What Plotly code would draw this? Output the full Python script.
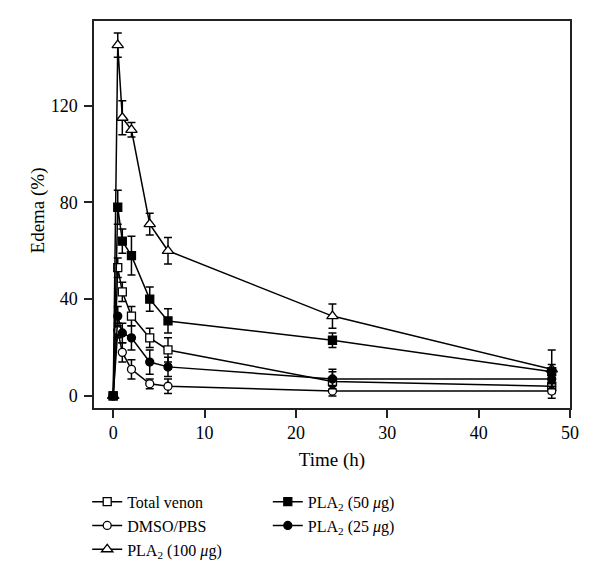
import plotly.graph_objects as go

time_h = [0, 0.5, 1, 2, 4, 6, 24, 48]

total_venom = [0, 53, 43, 33, 24, 19, 6, 4]
total_venom_err = [0, 4, 4, 4, 4, 5, 4, 3]

dmso_pbs = [0, 27, 18, 11, 5, 4, 2, 2]
dmso_pbs_err = [0, 3, 4, 4, 2, 3, 2, 3]

pla2_100 = [0, 145, 115, 110, 71, 60, 33, 11]
pla2_100_err = [0, 5, 7, 3, 4.5, 5.5, 5, 8]

pla2_50 = [0, 78, 64, 58, 40, 31, 23, 10]
pla2_50_err = [0, 7, 5, 8, 5, 5, 3, 3]

pla2_25 = [0, 33, 26, 24, 14, 12, 7, 7]
pla2_25_err = [0, 4, 4, 5, 5, 4, 4, 3]

x_ticks = [0, 10, 20, 30, 40, 50]
y_ticks = [0, 40, 80, 120]

FONT = "Liberation Serif"

series = [
    ("Total venon", total_venom, total_venom_err, "square", "white", 8, "legend"),
    ("DMSO/PBS", dmso_pbs, dmso_pbs_err, "circle", "white", 8, "legend"),
    ("PLA<sub>2</sub> (100 <i>μ</i>g)", pla2_100, pla2_100_err, "triangle-up", "white", 10, "legend"),
    ("PLA<sub>2</sub> (50 <i>μ</i>g)", pla2_50, pla2_50_err, "square", "black", 8, "legend2"),
    ("PLA<sub>2</sub> (25 <i>μ</i>g)", pla2_25, pla2_25_err, "circle", "black", 8, "legend2"),
]

fig = go.Figure()
for name, vals, errs, sym, fill, size, leg in series:
    fig.add_trace(go.Scatter(
        x=time_h, y=vals, name=name, mode="lines+markers",
        line=dict(color="black", width=1.5),
        marker=dict(symbol=sym, size=size, color=fill,
                    line=dict(color="black", width=1.3)),
        error_y=dict(type="data", array=errs, visible=True,
                     color="black", thickness=1.5, width=4),
        legend=leg,
    ))

axis_common = dict(
    showline=True, mirror=True, linecolor="#222", linewidth=1.5,
    ticks="outside", ticklen=8, tickwidth=1.5, tickcolor="#222",
    showgrid=False, zeroline=False,
    tickfont=dict(family=FONT, size=18, color="black"),
)

leg_common = dict(
    xref="container", yref="container", xanchor="left", yanchor="top",
    font=dict(family=FONT, size=16, color="black"),
    bgcolor="rgba(0,0,0,0)", tracegroupgap=0,
)

fig.update_layout(
    width=600, height=580,
    margin=dict(l=86, r=38, t=13, b=180, autoexpand=False),
    paper_bgcolor="white", plot_bgcolor="white",
    font=dict(family=FONT, size=17, color="black"),
    xaxis=dict(range=[-2.1, 50], tickvals=x_ticks,
               title=dict(text="Time (h)", font=dict(family=FONT, size=19), standoff=10),
               **axis_common),
    yaxis=dict(range=[-5, 155], tickvals=y_ticks, ticklabelstandoff=3,
               **axis_common),
    legend=dict(x=0.132, y=0.178, **leg_common),
    legend2=dict(x=0.433, y=0.178, **leg_common),
    annotations=[dict(
        text="Edema (%)", textangle=-90, showarrow=False,
        xref="paper", yref="paper", x=-0.118, y=0.51,
        xanchor="center", yanchor="middle",
        font=dict(family=FONT, size=19, color="black"),
    )],
)

fig.write_html("out.html")
